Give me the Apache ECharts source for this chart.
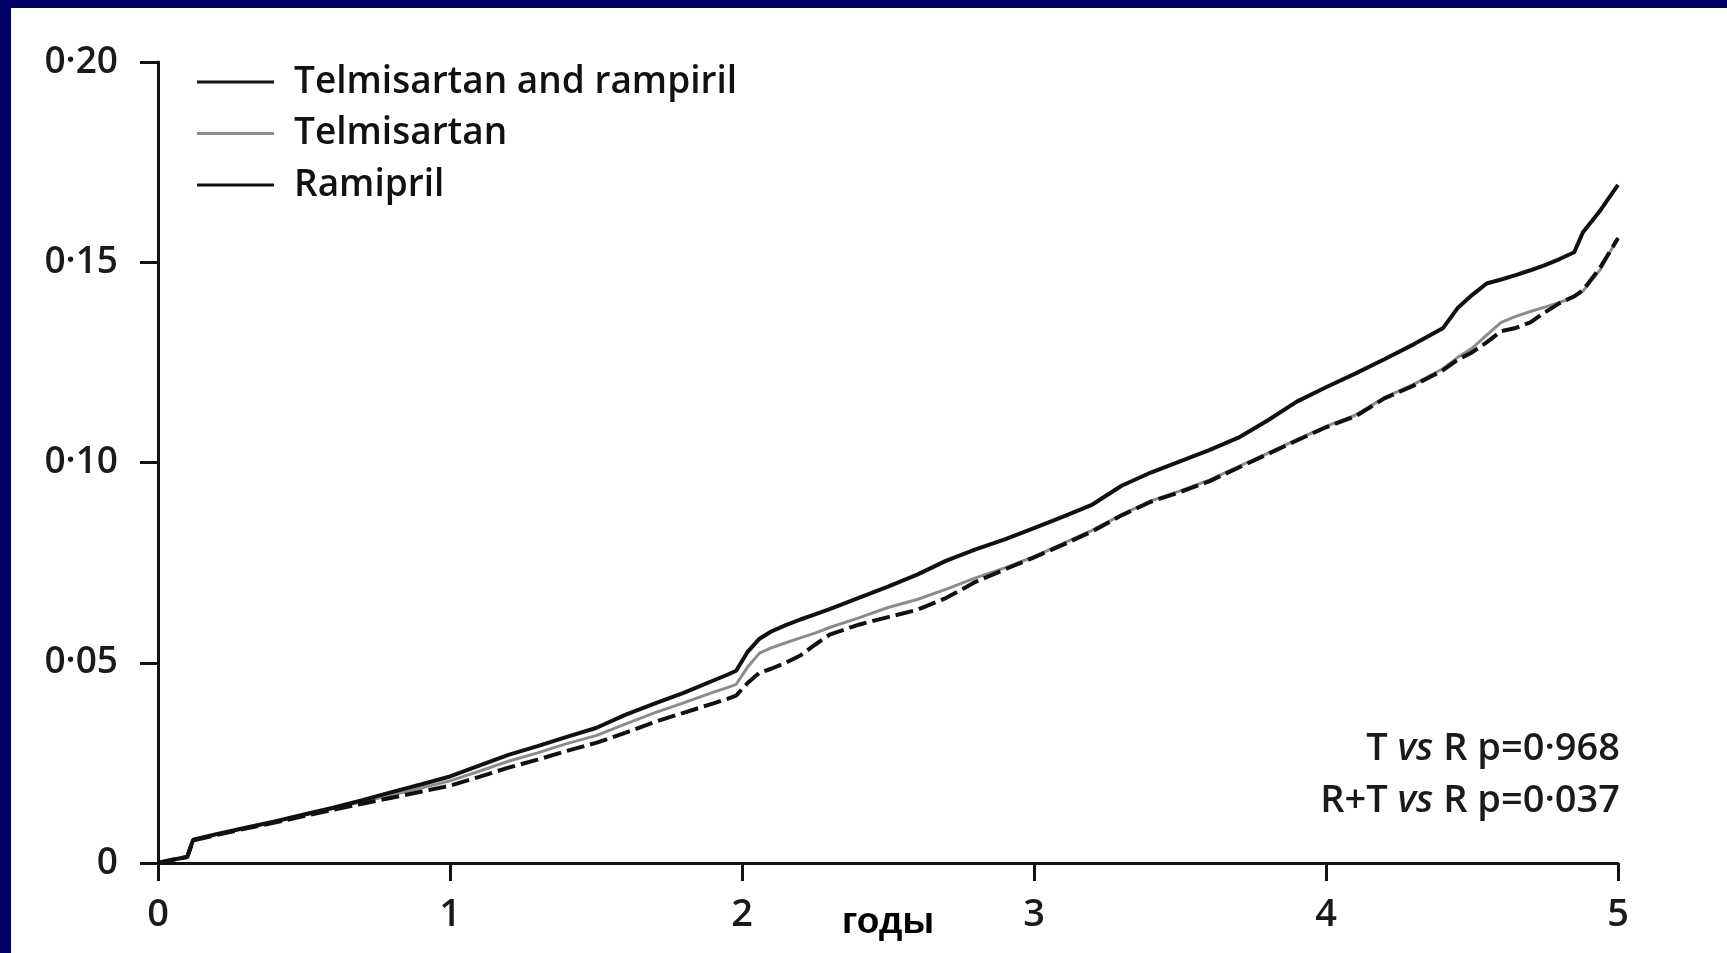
<!DOCTYPE html>
<html>
<head>
<meta charset="utf-8">
<script src="https://cdn.jsdelivr.net/npm/echarts@6/dist/echarts.min.js"></script>
<style>
  html, body { margin: 0; padding: 0; background: #000066; width: 1727px; height: 953px; overflow: hidden; }
  #chart { position: absolute; left: 11px; top: 8px; width: 1716px; height: 945px; background: #ffffff; }
</style>
</head>
<body>
<div id="chart"></div>
<script>
// ---- data ----
const seriesNames = ['Telmisartan and rampiril', 'Telmisartan', 'Ramipril'];
const years = [0, 0.05, 0.10, 0.12, 0.2, 0.3, 0.4, 0.5, 0.6, 0.7, 0.8, 0.9, 1.0, 1.1, 1.2, 1.3, 1.4, 1.5, 1.6, 1.7, 1.8, 1.9, 1.95, 1.98, 2.02, 2.06, 2.1, 2.15, 2.2, 2.25, 2.3, 2.4, 2.5, 2.6, 2.7, 2.8, 2.9, 3.0, 3.1, 3.2, 3.3, 3.4, 3.5, 3.6, 3.7, 3.8, 3.9, 4.0, 4.1, 4.2, 4.3, 4.4, 4.45, 4.5, 4.55, 4.6, 4.65, 4.7, 4.75, 4.8, 4.85, 4.88, 4.94, 5.0];
const combination = [0, 0.0008, 0.0015, 0.0058, 0.0072, 0.0088, 0.0104, 0.0121, 0.0138, 0.0157, 0.0177, 0.0196, 0.0216, 0.0243, 0.0270, 0.0292, 0.0315, 0.0337, 0.0370, 0.0398, 0.0425, 0.0455, 0.0470, 0.0480, 0.0528, 0.0560, 0.0578, 0.0594, 0.0608, 0.0621, 0.0634, 0.0662, 0.0690, 0.0720, 0.0755, 0.0783, 0.0808, 0.0836, 0.0865, 0.0895, 0.0942, 0.0975, 0.1003, 0.1031, 0.1062, 0.1105, 0.1152, 0.1188, 0.1222, 0.1258, 0.1295, 0.1335, 0.1385, 0.1418, 0.1447, 0.1457, 0.1468, 0.1480, 0.1493, 0.1508, 0.1525, 0.1575, 0.1630, 0.1693];
const telmisartan = [0, 0.0008, 0.0015, 0.0057, 0.0071, 0.0087, 0.0103, 0.0119, 0.0136, 0.0153, 0.0170, 0.0187, 0.0205, 0.0229, 0.0254, 0.0275, 0.0298, 0.0318, 0.0347, 0.0375, 0.0400, 0.0426, 0.0438, 0.0446, 0.0490, 0.0524, 0.0537, 0.0550, 0.0562, 0.0574, 0.0588, 0.0612, 0.0638, 0.0658, 0.0684, 0.0712, 0.0737, 0.0765, 0.0798, 0.0831, 0.0870, 0.0904, 0.0929, 0.0956, 0.0990, 0.1023, 0.1057, 0.1090, 0.1118, 0.1162, 0.1195, 0.1234, 0.1262, 0.1285, 0.1318, 0.1350, 0.1365, 0.1377, 0.1388, 0.1400, 0.1413, 0.1428, 0.1482, 0.1562];
const ramipril = [0, 0.0008, 0.0015, 0.0056, 0.0070, 0.0086, 0.0101, 0.0117, 0.0133, 0.0148, 0.0163, 0.0178, 0.0193, 0.0215, 0.0238, 0.0258, 0.0280, 0.0300, 0.0325, 0.0352, 0.0375, 0.0398, 0.0410, 0.0418, 0.0450, 0.0475, 0.0485, 0.0500, 0.0518, 0.0545, 0.0570, 0.0595, 0.0614, 0.0632, 0.0662, 0.0702, 0.0733, 0.0763, 0.0795, 0.0828, 0.0868, 0.0902, 0.0926, 0.0953, 0.0987, 0.1021, 0.1055, 0.1088, 0.1115, 0.1160, 0.1192, 0.1230, 0.1256, 0.1275, 0.1300, 0.1328, 0.1336, 0.1350, 0.1375, 0.1398, 0.1415, 0.1430, 0.1488, 0.1560];
const xTickLabels = ['0', '1', '2', '3', '4', '5'];
const yTickLabels = ['0', '0·05', '0·10', '0·15', '0·20'];
const xAxisName = 'годы';
const pValueLines = [['T ', 'vs', ' R p=0·968'], ['R+T ', 'vs', ' R p=0·037']];

// ---- chart ----
const pairs = vals => years.map((t, i) => [t, vals[i]]);
const FONT = '"Open Sans", "Liberation Sans", sans-serif';
const chart = echarts.init(document.getElementById('chart'), null, { renderer: 'canvas' });

const axisCommon = {
  axisLine: { show: true, onZero: false, lineStyle: { color: '#111', width: 3 } },
  axisTick: { show: true, inside: false, length: 18, lineStyle: { color: '#111', width: 3 } },
  splitLine: { show: false }
};

chart.setOption({
  animation: false,
  backgroundColor: '#ffffff',
  grid: { left: 147, right: 109, top: 54, bottom: 90, containLabel: false, outerBoundsMode: 'none' },
  xAxis: Object.assign({}, axisCommon, {
    type: 'value', min: 0, max: 5, interval: 1,
    name: xAxisName, nameLocation: 'middle', nameGap: 42, nameMoveOverlap: false,
    nameTextStyle: { fontFamily: '"Liberation Sans", Arial, sans-serif', fontWeight: 'bold', fontSize: 37, color: '#000', lineHeight: 36 },
    axisLabel: {
      margin: 33, fontFamily: FONT, fontWeight: 600, fontSize: 38, color: '#1a1a1a',
      formatter: v => xTickLabels[Math.round(v)]
    }
  }),
  yAxis: Object.assign({}, axisCommon, {
    type: 'value', min: 0, max: 0.2, interval: 0.05,
    axisLabel: {
      margin: 40, fontFamily: FONT, fontWeight: 600, fontSize: 37, color: '#1a1a1a',
      formatter: v => yTickLabels[Math.round(v / 0.05)]
    }
  }),
  legend: {
    orient: 'vertical', left: 181, top: 49,
    icon: 'rect', itemWidth: 77, itemHeight: 3, itemGap: 11.5,
    textStyle: { fontFamily: FONT, fontWeight: 600, fontSize: 37, color: '#111', lineHeight: 40, padding: [0, 0, 0, 15] },
    data: [
      { name: seriesNames[0] },
      { name: seriesNames[1] },
      { name: seriesNames[2] }
    ]
  },
  graphic: pValueLines.map((parts, i) => ({
    type: 'text', right: 107, top: 722 + i * 52,
    style: {
      text: '{n|' + parts[0] + '}{i|' + parts[1] + '}{n|' + parts[2] + '}',
      rich: {
        n: { fontFamily: FONT, fontWeight: 600, fontSize: 38, fill: '#1a1a1a' },
        i: { fontFamily: FONT, fontWeight: 600, fontStyle: 'italic', fontSize: 38, fill: '#1a1a1a' }
      }
    }
  })),
  series: [
    {
      name: seriesNames[0], type: 'line', data: pairs(combination), symbol: 'none', z: 3,
      lineStyle: { color: '#111', width: 4 }, itemStyle: { color: '#111' }
    },
    {
      name: seriesNames[1], type: 'line', data: pairs(telmisartan), symbol: 'none', z: 2,
      lineStyle: { color: '#8c8c8c', width: 3 }, itemStyle: { color: '#8c8c8c' }
    },
    {
      name: seriesNames[2], type: 'line', data: pairs(ramipril), symbol: 'none', z: 4,
      lineStyle: { color: '#111', width: 4, type: [18, 6] }, itemStyle: { color: '#111' }
    }
  ]
});
</script>
</body>
</html>
